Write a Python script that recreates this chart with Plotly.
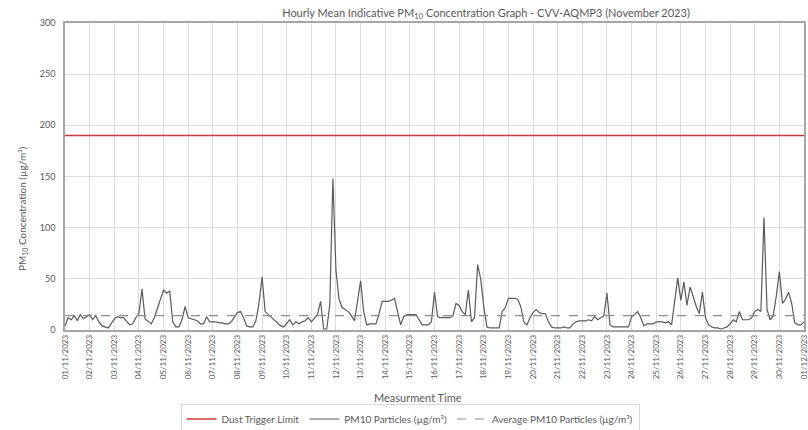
import pandas as pd
import plotly.graph_objects as go

# 3-hourly readings of the hourly mean PM10 trace (µg/m³), one row per day
pm10_by_day = [
    [4, 12, 10, 14, 9, 15, 11, 13],        # 01/11
    [15, 10, 14, 8, 4, 3, 2, 6],           # 02/11
    [11, 13, 12, 12, 8, 5, 6, 12],         # 03/11
    [16, 40, 11, 8, 6, 12, 22, 30],        # 04/11
    [39, 36, 38, 8, 3, 3, 10, 23],         # 05/11
    [12, 11, 10, 9, 6, 6, 13, 8],          # 06/11
    [8, 8, 7, 7, 6, 6, 8, 12],             # 07/11
    [17, 18, 12, 4, 3, 3, 9, 26],          # 08/11
    [52, 18, 15, 12, 9, 6, 4, 3],          # 09/11
    [6, 10, 5, 8, 6, 8, 9, 12],            # 10/11
    [8, 12, 15, 28, 1, 1, 25, 148],        # 11/11
    [58, 30, 22, 20, 18, 14, 9, 28],       # 12/11
    [48, 18, 5, 6, 6, 6, 16, 28],          # 13/11
    [28, 28, 29, 31, 18, 5, 13, 15],       # 14/11
    [15, 15, 15, 10, 5, 5, 5, 8],          # 15/11
    [37, 13, 12, 12, 12, 12, 14, 26],      # 16/11
    [24, 18, 15, 39, 8, 12, 64, 50],       # 17/11
    [23, 3, 2, 2, 2, 2, 18, 22],           # 18/11
    [31, 31, 31, 30, 23, 8, 5, 12],        # 19/11
    [17, 20, 17, 16, 16, 8, 3, 2],         # 20/11
    [2, 2, 3, 2, 2, 6, 8, 9],              # 21/11
    [9, 9, 10, 9, 13, 10, 12, 14],         # 22/11
    [36, 5, 3, 3, 3, 3, 3, 3],             # 23/11
    [13, 15, 18, 12, 4, 6, 6, 6],          # 24/11
    [8, 8, 8, 7, 8, 5, 29, 51],            # 25/11
    [29, 47, 24, 42, 33, 23, 16, 37],      # 26/11
    [12, 5, 3, 2, 2, 1, 2, 3],             # 27/11
    [6, 10, 8, 18, 10, 10, 10, 12],        # 28/11
    [18, 20, 18, 110, 20, 10, 14, 33],     # 29/11
    [57, 26, 30, 37, 26, 7, 5, 5],         # 30/11
    [8],                                   # 01/12 00:00
]
pm10_values = [v for day in pm10_by_day for v in day]
start_time = "2023-11-01 00:00"
end_time = "2023-12-01 00:00"
dust_trigger_limit = 190
average_pm10 = 14

y_ticks = [0, 50, 100, 150, 200, 250, 300]

times = pd.date_range(start_time, periods=len(pm10_values), freq="3h")
span = [pd.Timestamp(start_time), pd.Timestamp(end_time)]

W, H = 808, 430
font_family = "Lato, 'Open Sans', sans-serif"
text_color = "#595959"

fig = go.Figure()
fig.add_trace(go.Scatter(
    x=span, y=[dust_trigger_limit, dust_trigger_limit], mode="lines",
    name="Dust Trigger Limit", line=dict(color="#c8363a", width=1.6),
))
fig.add_trace(go.Scatter(
    x=times, y=pm10_values, mode="lines",
    name="PM10 Particles (µg/m³)", line=dict(color="#5a5a5a", width=1.2),
))
fig.add_trace(go.Scatter(
    x=span, y=[average_pm10, average_pm10], mode="lines",
    name="Average PM10 Particles (µg/m³)",
    line=dict(color="#8c8c8c", width=1.2, dash="dash"),
))

fig.update_layout(
    width=W, height=H,
    margin=dict(l=65, r=4, t=23, b=100, autoexpand=False),
    paper_bgcolor="white", plot_bgcolor="white",
    font=dict(family=font_family, color=text_color, size=9),
    title=dict(
        text="Hourly Mean Indicative PM<sub>10</sub> Concentration Graph - CVV-AQMP3 (November 2023)",
        x=486 / W, xref="container", xanchor="center",
        y=1 - 13 / H, yref="container", yanchor="middle",
        font=dict(size=11, color=text_color, family=font_family),
    ),
    showlegend=True,
    legend=dict(
        orientation="h", x=410 / W, xref="container", xanchor="center",
        y=1 - 419 / H, yref="container", yanchor="middle",
        bordercolor="#d9d9d9", borderwidth=1, font=dict(size=10, color=text_color),
        tracegroupgap=0, itemwidth=30,
    ),
    hovermode=False,
    annotations=[
        dict(text="Measurment Time", xref="paper", yref="paper",
             x=(418 - 65) / (W - 65 - 4), y=-(397 - 330) / (330 - 23),
             xanchor="center", yanchor="middle", showarrow=False,
             font=dict(size=11, color=text_color)),
        dict(text="PM<sub>10</sub> Concentration (µg/m³)", xref="paper", yref="paper",
             x=-(65 - 22) / (W - 65 - 4), y=(330 - 209) / (330 - 23),
             xanchor="center", yanchor="middle", showarrow=False, textangle=-90,
             font=dict(size=10, color=text_color)),
    ],
)
fig.update_xaxes(
    type="date", range=span, dtick=86400000, tick0=start_time,
    tickformat="%d/%m/%Y", tickangle=-90, tickfont=dict(size=8),
    showgrid=True, gridcolor="#dcdcdc", gridwidth=1,
    showline=True, linecolor="#a6a6a6", linewidth=1.5, mirror=True,
    ticks="", zeroline=False, automargin=False, ticklabeloverflow="allow",
)
fig.update_yaxes(
    range=[0, 300], tickvals=y_ticks, tickfont=dict(size=9),
    showgrid=True, gridcolor="#dcdcdc", gridwidth=1,
    showline=True, linecolor="#a6a6a6", linewidth=1.5, mirror=True,
    ticks="", zeroline=False, automargin=False, ticklabelstandoff=6,
)

fig.write_html(
    "out.html",
    config={"displayModeBar": False},
    post_script="document.body.style.margin='0';document.body.style.padding='0';"
                "document.documentElement.style.overflow='hidden';",
)
